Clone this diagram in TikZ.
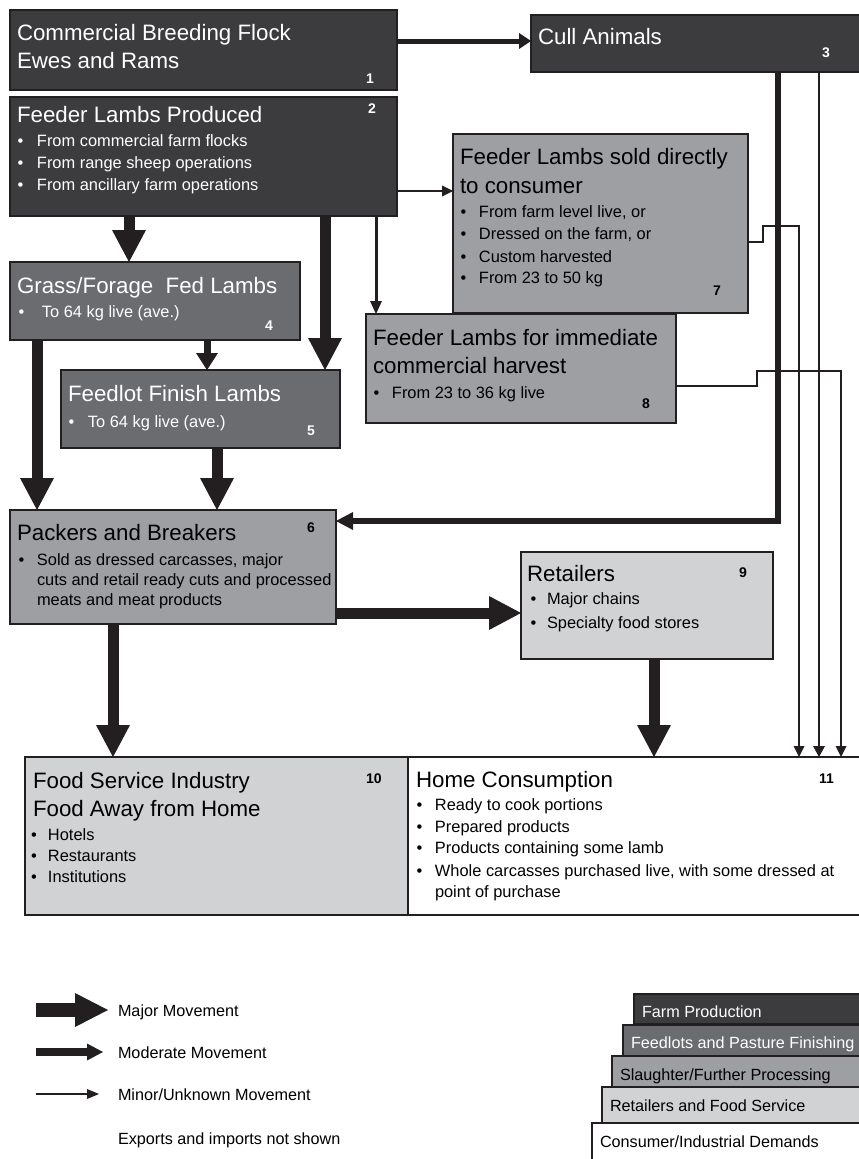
\documentclass[tikz,border=0pt]{standalone}
\usepackage{fontspec}
\setmainfont{Liberation Sans}
\usetikzlibrary{arrows.meta}
\definecolor{cdark}{RGB}{60,60,62}
\definecolor{cmed}{RGB}{107,108,112}
\definecolor{cgray}{RGB}{158,159,163}
\definecolor{clight}{RGB}{209,210,212}
\definecolor{cline}{RGB}{35,31,32}
\newcommand\bult[1]{\makebox[#1pt][l]{•}}
\begin{document}
\begin{tikzpicture}[x=1pt,y=-1pt,
  box/.style={draw=cline, line width=1.6pt, inner sep=0pt, outer sep=0pt, anchor=north west},
  tx/.style={anchor=base west, inner sep=0pt, outer sep=0pt},
  ttl/.style={tx, font=\fontsize{22.3}{26}\selectfont},
  bul/.style={tx, font=\fontsize{16.4}{19}\selectfont},
  num/.style={tx, font=\bfseries\fontsize{14}{16}\selectfont},
  lgt/.style={tx, font=\fontsize{16.2}{19}\selectfont},
  wh/.style={text=white},
  major/.style={draw=cline, line width=11pt, -{Triangle[length=32pt,width=34pt,line width=0pt 0 0]}},
  modA/.style={draw=cline, line width=5pt, -{Triangle[length=12pt,width=16pt,line width=0pt 0 0]}},
  modB/.style={draw=cline, line width=7pt, -{Triangle[length=17pt,width=22pt,line width=0pt 0 0]}},
  modC/.style={draw=cline, line width=6pt, -{Triangle[length=17pt,width=18pt,line width=0pt 0 0]}},
  modD/.style={draw=cline, line width=3pt, -{Triangle[length=13pt,width=12pt,line width=0pt 0 0]}},
  minor/.style={draw=cline, line width=2pt, -{Triangle[length=11pt,width=11pt,line width=0pt 0 0]}},
  minorB/.style={draw=cline, line width=2.5pt, -{Triangle[length=11pt,width=12pt,line width=0pt 0 0]}},
]
\useasboundingbox (0,0) rectangle (859,1159);

% ---------- boxes ----------
\node[box, fill=cdark, minimum width=387pt, minimum height=80pt] (b1) at (10,10) {};
\node[box, fill=cdark, minimum width=387pt, minimum height=119pt] (b2) at (10,97) {};
\node[box, fill=cdark, minimum width=331pt, minimum height=57pt] (b3) at (531,15) {};
\node[box, fill=cgray, minimum width=295pt, minimum height=179pt] (b7) at (453,134) {};
\node[box, fill=cgray, minimum width=310pt, minimum height=109pt] (b8) at (366,314) {};
\node[box, fill=cmed, minimum width=290pt, minimum height=78pt] (b4) at (10,262) {};
\node[box, fill=cmed, minimum width=279pt, minimum height=78pt] (b5) at (61,370) {};
\node[box, fill=cgray, minimum width=326pt, minimum height=114pt] (b6) at (10,510) {};
\node[box, fill=clight, minimum width=252pt, minimum height=107pt] (b9) at (521,552) {};
\node[box, fill=clight, minimum width=383pt, minimum height=158pt] (b10) at (25,757) {};
\node[box, fill=white, minimum width=454pt, minimum height=158pt] (b11) at (408,757) {};

% ---------- texts ----------
\node[ttl, wh] (t1a) at (17,40) {Commercial Breeding Flock};
\node[ttl, wh] (t1b) at (17,68) {Ewes and Rams};
\node[num, wh] (n1) at (366,83) {1};

\node[ttl, wh] (t2a) at (17,122) {Feeder Lambs Produced};
\node[num, wh] (n2) at (368,113) {2};
\node[bul, wh] (t2b) at (17.5,146) {\bult{19.5}From commercial farm flocks};
\node[bul, wh] (t2c) at (17.5,168) {\bult{19.5}From range sheep operations};
\node[bul, wh] (t2d) at (17.5,190) {\bult{19.5}From ancillary farm operations};

\node[ttl, wh] (t3a) at (538,44) {Cull Animals};
\node[num, wh] (n3) at (822,57) {3};

\node[ttl] (t7a) at (460,164) {Feeder Lambs sold directly};
\node[ttl] (t7b) at (460,193) {to consumer};
\node[bul] (t7c) at (460.5,217) {\bult{18.5}From farm level live, or};
\node[bul] (t7d) at (460.5,239) {\bult{18.5}Dressed on the farm, or};
\node[bul] (t7e) at (460.5,262) {\bult{18.5}Custom harvested};
\node[bul] (t7f) at (460.5,283) {\bult{18.5}From 23 to 50 kg};
\node[num] (n7) at (713,295) {7};

\node[ttl] (t8a) at (373,345) {Feeder Lambs for immediate};
\node[ttl] (t8b) at (373,373) {commercial harvest};
\node[bul] (t8c) at (373.5,398) {\bult{18.5}From 23 to 36 kg live};
\node[num] (n8) at (642,408) {8};

\node[ttl, wh] (t4a) at (17,293) {Grass/Forage~~Fed Lambs};
\node[bul, wh] (t4b) at (18.5,317) {\bult{23.5}To 64 kg live (ave.)};
\node[num, wh] (n4) at (265,330) {4};

\node[ttl, wh] (t5a) at (68,401) {Feedlot Finish Lambs};
\node[bul, wh] (t5b) at (68.5,427) {\bult{19.5}To 64 kg live (ave.)};
\node[num, wh] (n5) at (307,435) {5};

\node[ttl] (t6a) at (17,540) {Packers and Breakers};
\node[num] (n6) at (307,532) {6};
\node[bul] (t6b) at (18.5,565) {\bult{18.5}Sold as dressed carcasses, major};
\node[bul] (t6c) at (37,585) {cuts and retail ready cuts and processed};
\node[bul] (t6d) at (37,605) {meats and meat products};

\node[ttl] (t9a) at (527,581) {Retailers};
\node[num] (n9) at (739,577) {9};
\node[bul] (t9b) at (530.5,604) {\bult{16.5}Major chains};
\node[bul] (t9c) at (530.5,628) {\bult{16.5}Specialty food stores};

\node[ttl] (t10a) at (33,788) {Food Service Industry};
\node[ttl] (t10b) at (33,816) {Food Away from Home};
\node[num] (n10) at (366,783) {10};
\node[bul] (t10c) at (31,840) {\bult{17}Hotels};
\node[bul] (t10d) at (31,861) {\bult{17}Restaurants};
\node[bul] (t10e) at (31,882) {\bult{17}Institutions};

\node[ttl] (t11a) at (416,787) {Home Consumption};
\node[num] (n11) at (819,783) {11};
\node[bul] (t11b) at (416.5,810) {\bult{18.5}Ready to cook portions};
\node[bul] (t11c) at (416.5,832) {\bult{18.5}Prepared products};
\node[bul] (t11d) at (416.5,853) {\bult{18.5}Products containing some lamb};
\node[bul] (t11e) at (416.5,876) {\bult{18.5}Whole carcasses purchased live, with some dressed at};
\node[bul] (t11f) at (435,897) {point of purchase};

% ---------- guide coordinates ----------
\coordinate (g13) at (0,41);
\coordinate (g27) at (0,191);
\coordinate (g28) at (376,0);
\coordinate (g24) at (129,0);
\coordinate (g25) at (325,0);
\coordinate (g45) at (207,0);
\coordinate (g46) at (37,0);
\coordinate (g56) at (217,0);
\coordinate (g36) at (778,521);
\coordinate (g311) at (819,0);
\coordinate (g7s) at (0,242);
\coordinate (g7m) at (763,226);
\coordinate (g7e) at (799,0);
\coordinate (g8s) at (0,386);
\coordinate (g8m) at (757,371);
\coordinate (g8e) at (841,0);
\coordinate (g69) at (0,613);
\coordinate (g610) at (113,0);
\coordinate (g911) at (654,0);

% ---------- connectors ----------
\draw[modA] (b1.east |- g13) -- (b3.west |- g13);
\draw[minor] (b2.east |- g27) -- (b7.west |- g27);
\draw[modD] (b2.south -| g28) -- (b8.north -| g28);
\draw[major] (b2.south -| g24) -- (b4.north -| g24);
\draw[major] (b2.south -| g25) -- (b5.north -| g25);
\draw[modB] (b4.south -| g45) -- (b5.north -| g45);
\draw[major] (b4.south -| g46) -- (b6.north -| g46);
\draw[major] (b5.south -| g56) -- (b6.north -| g56);
\draw[minor] (b7.east |- g7s) -| (g7m) -| (b11.north -| g7e);
\draw[minor] (b8.east |- g8s) -| (g8m) -| (b11.north -| g8e);
\draw[modC] (b3.south -| g36) |- (b6.east |- g36);
\draw[minorB] (b3.south -| g311) -- (b11.north -| g311);
\draw[major] (b6.east |- g69) -- (b9.west |- g69);
\draw[major] (b6.south -| g610) -- (b10.north -| g610);
\draw[major] (b9.south -| g911) -- (b11.north -| g911);

% ---------- legend ----------
\coordinate (la0) at (36,1010);
\coordinate (la1) at (108,1010);
\coordinate (lb0) at (36,1052);
\coordinate (lb1) at (103,1052);
\coordinate (lc0) at (36,1094);
\coordinate (lc1) at (99,1094);
\draw[draw=cline, line width=14pt, -{Triangle[length=33pt,width=34pt,line width=0pt 0 0]}] (la0) -- (la1);
\draw[draw=cline, line width=8pt, -{Triangle[length=16pt,width=17pt,line width=0pt 0 0]}] (lb0) -- (lb1);
\draw[draw=cline, line width=2.5pt, -{Triangle[length=12pt,width=10pt,line width=0pt 0 0]}] (lc0) -- (lc1);
\node[lgt] (lta) at (118,1016) {Major Movement};
\node[lgt] (ltb) at (118,1058) {Moderate Movement};
\node[lgt] (ltc) at (118,1100) {Minor/Unknown Movement};
\node[lgt] (ltd) at (118,1144) {Exports and imports not shown};

\node[box, fill=cdark, minimum width=228pt, minimum height=30pt] (s1) at (634,994) {};
\node[box, fill=cmed, minimum width=239pt, minimum height=31pt] (s2) at (623,1025) {};
\node[box, fill=cgray, minimum width=250pt, minimum height=31pt] (s3) at (612,1056) {};
\node[box, fill=clight, minimum width=260pt, minimum height=36pt] (s4) at (602,1087) {};
\node[box, fill=white, minimum width=270pt, minimum height=40pt] (s5) at (592,1123) {};
\node[lgt, wh] (st1) at (642,1017) {Farm Production};
\node[lgt, wh] (st2) at (631,1048) {Feedlots and Pasture Finishing};
\node[lgt] (st3) at (620,1080) {Slaughter/Further Processing};
\node[lgt] (st4) at (610,1111) {Retailers and Food Service};
\node[lgt] (st5) at (600,1147) {Consumer/Industrial Demands};
\end{tikzpicture}
\end{document}
